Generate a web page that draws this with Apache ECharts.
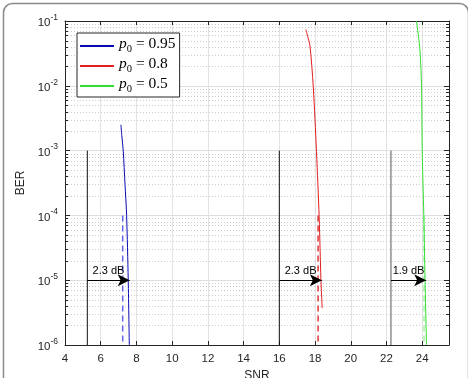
<!DOCTYPE html>
<html>
<head>
<meta charset="utf-8">
<script src="https://cdn.jsdelivr.net/npm/echarts@6/dist/echarts.min.js"></script>
<style>
html,body{margin:0;padding:0;background:#fff;}
#chart{width:468px;height:378px;}
</style>
</head>
<body>
<div id="chart"></div>
<script>
// ---- data ----
const legendNames = ['p0 = 0.95', 'p0 = 0.8', 'p0 = 0.5'];
const legendValues = ['0.95', '0.8', '0.5'];

const snrBlue = [7.13, 7.18, 7.26, 7.36, 7.45, 7.54, 7.60];
const berBlue = [2.5e-3, 1.7e-3, 1.0e-3, 3.0e-4, 1.0e-4, 1.0e-5, 1.0e-6];

const snrRed = [17.49, 17.60, 17.71, 17.90, 18.08, 18.23, 18.33, 18.40];
const berRed = [7.4e-2, 5.6e-2, 4.3e-2, 9.7e-3, 9.6e-4, 9.5e-5, 1.0e-5, 3.7e-6];

const snrGreen = [23.68, 23.87, 23.96, 24.00, 24.09, 24.16, 24.24];
const berGreen = [1.0e-1, 3.6e-2, 1.0e-2, 1.0e-3, 1.0e-4, 1.0e-5, 1.0e-6];

// vertical reference lines (solid) and dashed lines
const refLineX = [5.25, 16.0, 22.25];
const refLineTop = 1e-3;
const dashLineX = [7.23, 18.17, 24.10];
const dashLineTop = 1e-4;
const lineBottom = 1e-6;

// arrows
const arrowStart = [5.25, 16.0, 22.25];
const arrowEnd = [7.62, 18.38, 24.22];
const arrowBer = 1e-5;
const arrowLabels = ['2.3 dB', '2.3 dB', '1.9 dB'];

// axes
const xMin = 4, xMax = 25.5, xStep = 2;
const yMin = 1e-6, yMax = 1e-1;

// ---- build ----
const colors = ['#0a0ab4', '#e21e1e', '#30e030'];
const dashColors = ['#6464f0', '#e03838', '#a8f0a8'];
const refColors = ['#111111', '#111111', '#555555'];

function zip(a, b) { return a.map((v, i) => [v, b[i]]); }

const minorVals = [];
for (let e = -6; e < -1; e++) {
  for (let m = 2; m <= 9; m++) minorVals.push([xMin, m * Math.pow(10, e)]);
}

const axisColor = '#262626';
const sans = 'Liberation Sans, Arial, sans-serif';
const serif = 'Liberation Serif, DejaVu Serif, serif';

const series = [];
// minor grid + minor ticks
series.push({
  type: 'custom',
  name: 'minor',
  silent: true,
  z: 0,
  data: minorVals,
  encode: { x: 0, y: 1 },
  clip: false,
  renderItem: function (params, api) {
    const cs = params.coordSys;
    const p = api.coord([api.value(0), api.value(1)]);
    const y = Math.round(p[1]) + 0.5;
    return {
      type: 'group',
      children: [
        { type: 'line', shape: { x1: cs.x, y1: y, x2: cs.x + cs.width, y2: y },
          style: { stroke: '#cdcdcd', lineWidth: 1, lineDash: [1, 2] } },
        { type: 'line', shape: { x1: cs.x, y1: y, x2: cs.x + 3, y2: y },
          style: { stroke: axisColor, lineWidth: 1 } },
        { type: 'line', shape: { x1: cs.x + cs.width - 3, y1: y, x2: cs.x + cs.width, y2: y },
          style: { stroke: axisColor, lineWidth: 1 } }
      ]
    };
  }
});

const curveX = [snrBlue, snrRed, snrGreen];
const curveY = [berBlue, berRed, berGreen];
for (let i = 0; i < 3; i++) {
  series.push({
    type: 'line', name: legendNames[i], data: zip(curveX[i], curveY[i]),
    symbol: 'none', smooth: 0.3, z: 5,
    lineStyle: { color: colors[i], width: 1 }, itemStyle: { color: colors[i] }
  });
}
for (let i = 0; i < 3; i++) {
  series.push({
    type: 'line', name: 'ref' + i, data: [[refLineX[i], refLineTop], [refLineX[i], lineBottom]],
    symbol: 'none', z: 3, lineStyle: { color: refColors[i], width: 1 }
  });
  series.push({
    type: 'line', name: 'dash' + i, data: [[dashLineX[i], dashLineTop], [dashLineX[i], lineBottom]],
    symbol: 'none', z: 4, lineStyle: { color: dashColors[i], width: 1.5, type: [6, 4] }
  });
}
series.push({
  type: 'line', name: 'arrows', data: [], symbol: 'none',
  markLine: {
    silent: true, symbol: ['none', 'arrow'], symbolSize: [9, 12], z: 6,
    lineStyle: { color: '#000', width: 1, type: 'solid' },
    label: { show: true, position: 'middle', color: '#000', fontSize: 11, fontFamily: sans, distance: 4 },
    data: arrowStart.map((s, i) => [
      { coord: [s, arrowBer], name: arrowLabels[i], label: { formatter: arrowLabels[i] } },
      { coord: [arrowEnd[i], arrowBer] }
    ])
  }
});

const chart = echarts.init(document.getElementById('chart'), null, { renderer: 'canvas' });
chart.setOption({
  animation: false,
  backgroundColor: '#fff',
  graphic: [{
    type: 'rect', left: 1, top: 1, shape: { width: 465, height: 400, r: 9 },
    style: { fill: 'none', stroke: '#8a8a8a', lineWidth: 1.5 }, silent: true, z: -10
  }],
  grid: { left: 65, right: 19, top: 21, bottom: 33, containLabel: false, outerBoundsMode: 'none' },
  legend: {
    data: legendNames, orient: 'vertical', left: 77, top: 33,
    backgroundColor: '#fff', borderColor: '#262626', borderWidth: 1, borderRadius: 0,
    padding: [3, 4, 2, 3], itemGap: 1, itemWidth: 34, itemHeight: 2, icon: 'rect',
    formatter: function (name) {
      const i = legendNames.indexOf(name);
      return '{i|p}{s|0}{n| = ' + legendValues[i] + '}';
    },
    textStyle: {
      color: '#000', padding: [0, 0, 0, 0],
      rich: {
        i: { fontFamily: serif, fontStyle: 'italic', fontSize: 15.5, verticalAlign: 'bottom', lineHeight: 18, padding: [0, 0, 3, 0] },
        s: { fontFamily: serif, fontSize: 10.5, verticalAlign: 'bottom', lineHeight: 13, padding: [0, 0, 0, 0] },
        n: { fontFamily: serif, fontSize: 15.5, verticalAlign: 'bottom', lineHeight: 18, padding: [0, 0, 3, 0] }
      }
    }
  },
  xAxis: [{
    type: 'value', min: xMin, max: xMax, interval: xStep,
    name: 'SNR', nameLocation: 'middle', nameGap: 24,
    nameTextStyle: { color: axisColor, fontSize: 12, fontFamily: sans },
    axisLine: { show: true, lineStyle: { color: axisColor, width: 1 } },
    axisTick: { inside: true, length: 4, lineStyle: { color: axisColor } },
    axisLabel: { color: axisColor, fontSize: 11.5, fontFamily: sans, margin: 8, showMaxLabel: false },
    splitLine: { show: true, lineStyle: { color: '#e2e2e2', width: 1 } }
  }, {
    type: 'value', position: 'top', min: xMin, max: xMax, interval: xStep,
    axisLine: { show: true, lineStyle: { color: axisColor, width: 1 } },
    axisTick: { inside: true, length: 4, lineStyle: { color: axisColor } },
    axisLabel: { show: false }, splitLine: { show: false }
  }],
  yAxis: [{
    type: 'log', logBase: 10, min: yMin, max: yMax, interval: 1,
    name: 'BER', nameLocation: 'middle', nameGap: 38,
    nameTextStyle: { color: axisColor, fontSize: 12, fontFamily: sans },
    axisLine: { show: true, lineStyle: { color: axisColor, width: 1 } },
    axisTick: { inside: true, length: 5, lineStyle: { color: axisColor } },
    axisLabel: {
      color: axisColor, margin: 7,
      formatter: function (v) {
        const e = Math.round(Math.log10(v));
        return '{b|10}{s|' + e + '}';
      },
      rich: {
        b: { fontSize: 11.5, fontFamily: sans, color: axisColor, verticalAlign: 'bottom' },
        s: { fontSize: 8.5, fontFamily: sans, color: axisColor, verticalAlign: 'bottom', padding: [0, 0, 7, 0] }
      }
    },
    splitLine: { show: true, lineStyle: { color: '#dedede', width: 1 } }
  }, {
    type: 'log', logBase: 10, min: yMin, max: yMax, interval: 1, position: 'right',
    axisLine: { show: true, lineStyle: { color: axisColor, width: 1 } },
    axisTick: { inside: true, length: 5, lineStyle: { color: axisColor } },
    axisLabel: { show: false }, splitLine: { show: false }
  }],
  series: series
});
</script>
</body>
</html>
